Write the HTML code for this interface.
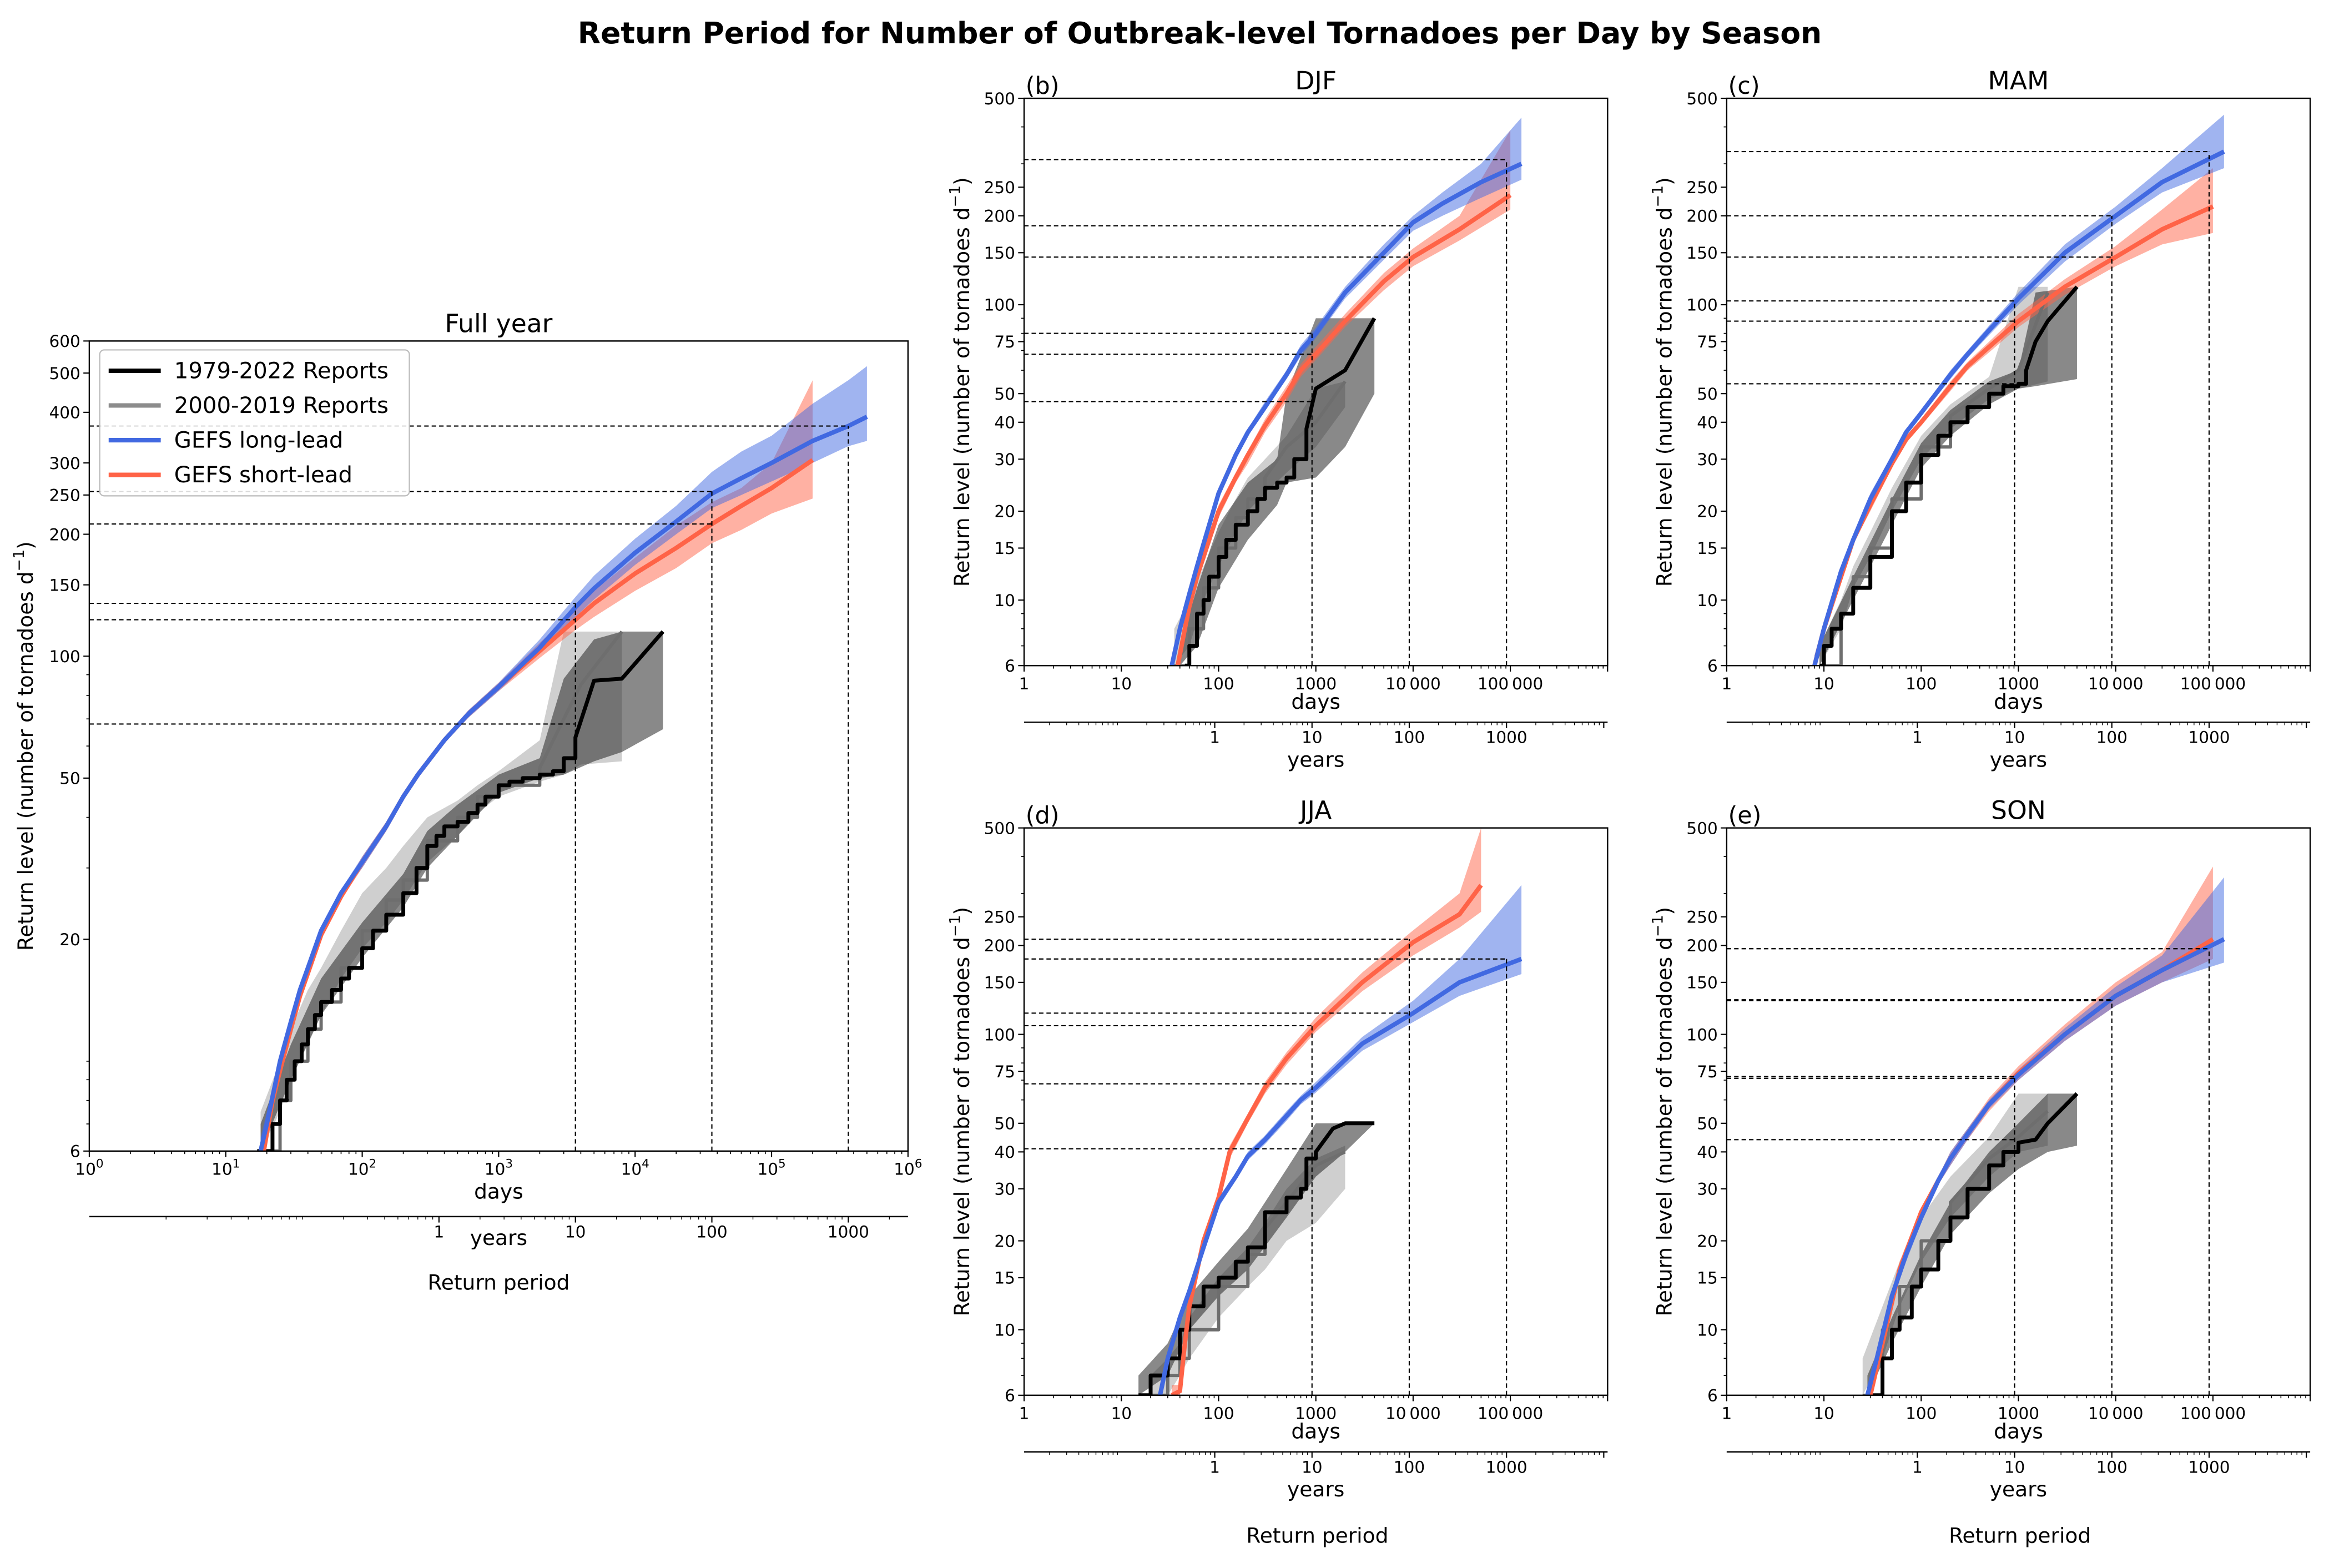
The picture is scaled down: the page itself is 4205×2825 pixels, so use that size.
<!DOCTYPE html>
<html><head><meta charset="utf-8"><style>
html,body{margin:0;padding:0;background:#fff;}
svg{display:block;font-family:"DejaVu Sans","Liberation Sans",sans-serif;}
</style></head><body>
<svg id="chart" xmlns="http://www.w3.org/2000/svg" width="4205" height="2825" viewBox="0 0 1568 1053" preserveAspectRatio="none">
<rect x="0" y="0" width="1568" height="1053" fill="#fff"/>
<text x="806" y="29" text-anchor="middle" font-size="20" font-weight="bold">Return Period for Number of Outbreak-level Tornadoes per Day by Season</text>
</svg>
<script>
// ---------- Full year ----------
const fullLongDays=[18,20,25,30,35,40,50,70,100,150,200,256,400,600,1000,2000,3652,5000,10000,20000,36525,60000,100000,200000,365250,500000];
const fullLongVals=[6,7,10,12.5,15,17,21,26,31,38,45,51,62,72,84,105,132,147,180,215,252,275,300,340,370,390];
const fullLongLo=[6,6.5,9.5,12,14.5,16.5,20.5,25.5,30,37,44,50,61,70.5,82,102,125,138,168,200,232,250,270,300,330,340];
const fullLongHi=[6.5,7.5,10.5,13,15.5,17.5,21.5,26.5,32,39,46,52,63,73.5,86,110,140,158,195,235,285,320,350,420,480,520];
const fullShortDays=[19,22,25,30,35,40,50,70,100,150,200,256,400,600,1000,2000,3652,5000,10000,20000,36525,60000,100000,200000];
const fullShortVals=[6,8,9.5,12,14.5,16.5,20.5,25.5,31,38,45,51,62,72,84,103,123,135,160,185,212,235,260,305];
const fullShortLo=[6,7.5,9,11.5,14,16,20,25,30,37,44,50,61,70.5,82,99,116,125,145,165,190,205,225,245];
const fullShortHi=[6.5,8.5,10,12.5,15,17,21,26,32,39,46,52,63,73.5,86,108,130,145,175,210,240,260,300,480];
const fullObsDays=[17,20,22,25,28,32,36,40,45,50,60,70,80,100,120,150,200,250,300,350,400,500,600,700,800,1000,1200,1500,2000,2500,3000,3652,5000,8000,16000];
const fullObsVals=[6,6,7,8,9,10,11,12,13,14,15,16,17,19,21,23,26,30,34,36,38,39,41,43,45,48,49,50,51,52,56,63,87,88,115];
const fullObsBandDays=[18,30,50,100,200,300,500,1000,2000,3000,5000,8000,16000];
const fullObsLo=[6,9,13,18,24,30,36,46,50,51,55,58,66];
const fullObsHi=[7,11,16,22,29,37,43,51,56,88,110,115,115];
const fullGreyDays=[18,25,30,40,50,70,100,150,200,300,500,700,1000,2000,3000,4000,8000];
const fullGreyVals=[6,8,10,12,14,17,21,25,28,35,40,45,48,53,70,85,115];
const fullGreyLo=[6,7.5,9,11,13,16,19,22,25,31,36,41,45,49,51,54,55];
const fullGreyHi=[7.5,10,12,15,17,21,26,30,34,40,44,48,52,62,115,115,115];
const fullRefLevels=[370,255,212,135,123,68];
const fullRefDays=[365250,36525,36525,3652,3652,3652];
// ---------- DJF ----------
const djfLongDays=[33,40,50,60,70,100,150,200,300,500,700,1000,2000,5000,10000,20000,50000,130000];
const djfLongVals=[6,8,10.5,13,15.5,23,31,37,45,58,70,80,110,150,190,220,260,300];
const djfLongLo=[6,7.5,10,12.5,15,22,30,36,44,56,67,77,105,142,178,200,230,265];
const djfLongHi=[6.5,8.5,11,13.5,16,24,32,38,47,60,73,84,115,160,200,240,300,430];
const djfShortDays=[38,45,50,60,70,100,150,200,300,500,700,1000,2000,5000,10000,30000,100000];
const djfShortVals=[6,8,9.5,12,14,20,26,31,39,50,60,68,88,120,145,180,235];
const djfShortLo=[6,7.5,9,11.5,13.5,19,25,29,37,47,57,65,84,112,135,165,210];
const djfShortHi=[6.5,8.5,10,12.5,14.5,21,27,32,41,53,63,72,93,128,155,200,390];
const djfObsDays=[45,50,60,70,80,100,120,150,200,250,300,400,500,600,800,1000,2000,4000];
const djfObsVals=[6,7,9,10,12,14,16,18,20,22,24,25,26,30,38,52,60,90];
const djfObsBandDays=[40,60,100,200,400,500,1000,2000,4000];
const djfObsLo=[6,7,11,16,21,25,26,33,50];
const djfObsHi=[7,11,18,25,30,50,90,90,90];
const djfGreyDays=[35,50,70,100,150,200,300,500,1000,2000];
const djfGreyVals=[6,8,11,15,19,22,26,33,40,55];
const djfGreyLo=[6,7,10,13,17,20,23,27,33,45];
const djfGreyHi=[8,10,13,17,22,26,30,36,52,55];
const djfRefLevels=[310,185,145,80,68,47];
// ---------- MAM ----------
const mamLongDays=[8,10,15,20,30,50,70,100,200,300,500,1000,3000,10000,30000,130000];
const mamLongVals=[6,8,12.5,16,22,30,37,43,58,68,82,105,150,200,260,330];
const mamLongLo=[6,7.5,12,15.5,21,29,36,42,56,66,79,100,140,188,240,290];
const mamLongHi=[6.5,8.5,13,16.5,23,31,38,44,60,70,85,110,160,215,290,440];
const mamShortDays=[8,10,15,20,30,50,70,100,200,300,500,1000,3000,10000,30000,100000];
const mamShortVals=[6,8,12,16,21,29,35,40,53,62,72,88,115,145,180,215];
const mamShortLo=[6,7.5,11.5,15.5,20,28,34,39,51,60,69,84,108,135,160,175];
const mamShortHi=[6.5,8.5,12.5,16.5,22,30,36,41,55,64,75,93,122,158,210,290];
const mamObsDays=[9,10,12,15,20,30,50,70,100,150,200,300,500,700,1000,1200,1500,2000,4000];
const mamObsVals=[6,7,8,9,11,14,20,25,31,36,40,45,50,53,54,60,75,88,115];
const mamObsBandDays=[9,20,50,100,200,500,1000,1500,4000];
const mamObsLo=[6,10,18,28,36,46,52,53,56];
const mamObsHi=[7,12,22,34,44,55,60,110,115];
const mamGreyDays=[9,15,20,30,50,100,200,500,1000,2000];
const mamGreyVals=[6,9,12,15,22,33,42,52,60,110];
const mamGreyLo=[6,8,11,14,20,30,38,48,52,55];
const mamGreyHi=[7,10,13,17,24,36,46,57,115,115];
const mamRefLevels=[330,200,145,103,88,54];
// ---------- JJA ----------
const jjaLongDays=[25,30,40,50,70,100,150,200,300,500,700,1000,2000,3000,10000,30000,130000];
const jjaLongVals=[6,8,11,13.5,19,27,33,38.7,44,53,60,66,82,93,118,150,180];
const jjaLongLo=[6,7.5,10.5,13,18,26,32,37.5,42.5,51,58,63.5,78,88,110,135,160];
const jjaLongHi=[6.5,8.5,11.5,14,20,28,34,40,45.5,55,62,69,86,98,130,180,320];
const jjaShortDays=[33,40,45,50,70,100,130,200,300,500,1000,3000,10000,30000,50000];
const jjaShortVals=[6,6.2,9,12,20,28,40,52,66,83,107,150,205,255,320];
const jjaShortLo=[6,6,8.5,11.5,19,27,38,50,63,79,102,140,185,230,260];
const jjaShortHi=[6.5,6.5,9.5,12.5,21,29,42,54,69,87,114,162,225,300,500];
const jjaObsDays=[15,20,25,30,40,50,70,100,150,200,300,500,700,800,1000,1500,2000,4000];
const jjaObsVals=[6,7,7,8,10,12,14,15,17,19,25,28,30,38,40,48,50,50];
const jjaObsBandDays=[15,30,50,100,200,500,1000,2000,4000];
const jjaObsLo=[6,7,10,13,16,24,33,40,50];
const jjaObsHi=[7,9,13,17,22,35,50,50,50];
const jjaGreyDays=[20,30,40,50,100,200,300,500,1000,2000];
const jjaGreyVals=[6,7,8,10,14,18,22,27,36,40];
const jjaGreyLo=[6,6,7,8,11,14,16,20,23,30];
const jjaGreyHi=[7,8,9,11,15,19,23,30,38,42];
const jjaRefLevels=[180,210,118,107,68,41];
// ---------- SON ----------
const sonLongDays=[28,35,50,70,100,150,200,300,500,1000,3000,10000,30000,130000];
const sonLongVals=[6,8,13,18,24,32,38,46,58,73,100,135,165,210];
const sonLongLo=[6,7.5,12.5,17,23,31,36,44,56,70,95,125,150,175];
const sonLongHi=[6.5,8.5,13.5,19,25,33,40,48,60,76,105,145,185,340];
const sonShortDays=[30,40,60,100,150,200,300,500,1000,3000,10000,30000,100000];
const sonShortVals=[6,9,16,25,32,38,46,58,74,100,135,165,210];
const sonShortLo=[6,8.5,15,24,31,36,44,55,70,95,125,150,180];
const sonShortHi=[6.5,9.5,17,26,33,40,48,61,78,108,150,190,370];
const sonObsDays=[30,40,50,60,80,100,150,200,300,500,700,1000,1500,2000,4000];
const sonObsVals=[6,8,10,11,14,16,20,24,30,36,40,43,44,50,63];
const sonObsBandDays=[28,50,100,200,500,1000,2000,4000];
const sonObsLo=[6,9,14,21,29,35,40,42];
const sonObsHi=[7,11,18,27,40,50,63,63];
const sonGreyDays=[25,40,60,100,200,500,1000,2000];
const sonGreyVals=[6,10,14,20,27,38,45,55];
const sonGreyLo=[6,8,12,17,24,33,40,42];
const sonGreyHi=[8,12,17,24,33,45,63,63];
const sonRefLevels=[195,131,130,72,71,44];
const seasonRefDays=[91310,9131,9131,913,913,913];

const smallYTicks=[6,10,15,20,30,40,50,75,100,150,200,250,500];
const smallYMinor=[7,8,9,60,70,80,90,300,400];
const fullYTicks=[6,20,50,100,150,200,250,300,400,500,600];
const fullYMinor=[7,8,9,10,30,40,60,70,80,90];

const NS='http://www.w3.org/2000/svg';
const svg=document.getElementById('chart');
function mk(tag,attrs,parent){const e=document.createElementNS(NS,tag);for(const k in attrs)e.setAttribute(k,attrs[k]);parent.appendChild(e);return e;}
let clipId=0;

function drawPanel(P){
  const g=mk('g',{},svg);
  
  
  const lx0=Math.log10(P.xmin),lx1=Math.log10(P.xmax),ly0=Math.log10(P.ymin),ly1=Math.log10(P.ymax);
  const sx=d=>P.x0+(Math.log10(d)-lx0)/(lx1-lx0)*(P.x1-P.x0);
  const sy=v=>P.y1-(Math.log10(v)-ly0)/(ly1-ly0)*(P.y1-P.y0);
  const cid='clip'+(clipId++);
  const cp=mk('clipPath',{id:cid},g);
  mk('rect',{x:P.x0,y:P.y0,width:P.x1-P.x0,height:P.y1-P.y0},cp);
  const plot=mk('g',{'clip-path':'url(#'+cid+')'},g);
  
  
  function band(days,lo,hi,fill,nm){
    let d='M'+days.map((x,i)=>sx(x).toFixed(2)+','+sy(hi[i]).toFixed(2)).join('L');
    for(let i=days.length-1;i>=0;i--)d+='L'+sx(days[i]).toFixed(2)+','+sy(lo[i]).toFixed(2);
    const p=mk('path',{d:d+'Z',fill:fill,stroke:'none'},plot);
    
    
  }
  function line(days,vals,col,w,step,nm){
    let d='M'+sx(days[0]).toFixed(2)+','+sy(vals[0]).toFixed(2);
    for(let i=1;i<days.length;i++){
      if(step&&i<days.length-3)d+='H'+sx(days[i]).toFixed(2)+'V'+sy(vals[i]).toFixed(2);
      else d+='L'+sx(days[i]).toFixed(2)+','+sy(vals[i]).toFixed(2);
    }
    const p=mk('path',{d:d,fill:'none',stroke:col,'stroke-width':w,'stroke-linejoin':'round'},plot);
    
    
  }
  band(P.greyDays,P.greyLo,P.greyHi,'rgba(160,160,160,0.5)','obs-2000-2019-band');
  band(P.obsBandDays,P.obsLo,P.obsHi,'rgba(40,40,40,0.55)','obs-1979-2022-band');
  band(P.shortDays,P.shortLo,P.shortHi,'rgba(255,99,71,0.5)','gefs-short-lead-band');
  band(P.longDays,P.longLo,P.longHi,'rgba(65,105,225,0.5)','gefs-long-lead-band');
  line(P.greyDays,P.greyVals,'#6e6e6e',2.2,true,'obs-2000-2019-line');
  line(P.obsDays,P.obsVals,'#000',2.6,true,'obs-1979-2022-line');
  line(P.shortDays,P.shortVals,'#ff6347',3,false,'gefs-short-lead-line');
  line(P.longDays,P.longVals,'#4169e1',3,false,'gefs-long-lead-line');
  const vmax={};
  P.refLevels.forEach((lv,i)=>{
    const xd=P.refDays[i];
    const h=mk('line',{x1:P.x0,x2:sx(xd),y1:sy(lv),y2:sy(lv),stroke:'#000','stroke-width':0.8,'stroke-dasharray':'3,2'},g);
    
    
    vmax[xd]=Math.max(vmax[xd]||0,lv);
  });
  Object.keys(vmax).forEach(k=>{
    const v=mk('line',{x1:sx(+k),x2:sx(+k),y1:P.y1,y2:sy(vmax[k]),stroke:'#000','stroke-width':0.8,'stroke-dasharray':'3,2'},g);
    
    
  });
  const fr=mk('rect',{x:P.x0,y:P.y0,width:P.x1-P.x0,height:P.y1-P.y0,fill:'none',stroke:'#000','stroke-width':0.9},g);
  
  
  P.yTicks.forEach(v=>{
    mk('line',{x1:P.x0-4,x2:P.x0,y1:sy(v),y2:sy(v),stroke:'#000','stroke-width':0.8},g);
    const t=mk('text',{x:P.x0-6,y:sy(v)+4,'text-anchor':'end','font-size':11},g);
    t.textContent=v;
    
    
  });
  P.yMinor.forEach(v=>mk('line',{x1:P.x0-2,x2:P.x0,y1:sy(v),y2:sy(v),stroke:'#000','stroke-width':0.6},g));
  for(let e=0;e<=6;e++){
    const d=Math.pow(10,e);
    mk('line',{x1:sx(d),x2:sx(d),y1:P.y1,y2:P.y1+4,stroke:'#000','stroke-width':0.8},g);
    const t=mk('text',{x:sx(d),y:P.y1+16,'text-anchor':'middle','font-size':11},g);
    if(P.full){t.textContent='10';const s=mk('tspan',{dy:-5,'font-size':8},t);s.textContent=String(e);}
    else if(e<6)t.textContent=['1','10','100','1000','10\u2009000','100\u2009000'][e];
    
    
    if(e<6)for(let k=2;k<=9;k++){const xm=sx(k*d);if(xm<=P.x1)mk('line',{x1:xm,x2:xm,y1:P.y1,y2:P.y1+2,stroke:'#000','stroke-width':0.6},g);}
  }
  const dl=mk('text',{x:(P.x0+P.x1)/2,y:P.y1+(P.full?32:29),'text-anchor':'middle','font-size':14},g);
  dl.textContent='days';
  
  
  const ya=P.y1+P.secOff;
  const sl=mk('line',{x1:P.x0,x2:P.x1,y1:ya,y2:ya,stroke:'#000','stroke-width':0.9},g);
  
  
  for(let e=-2;e<=4;e++){
    for(let k=1;k<=9;k++){
      const yv=k*Math.pow(10,e);const xx=sx(yv*P.daysPerYear);
      if(xx<P.x0||xx>P.x1)continue;
      const major=(k===1&&e>=0);
      mk('line',{x1:xx,x2:xx,y1:ya,y2:ya+(major?4:2),stroke:'#000','stroke-width':major?0.8:0.5},g);
      if(major&&e<=3){
        const t=mk('text',{x:xx,y:ya+14,'text-anchor':'middle','font-size':11},g);
        t.textContent=String(yv);
        
        
      }
    }
  }
  const yl=mk('text',{x:(P.x0+P.x1)/2,y:ya+(P.full?19:30),'text-anchor':'middle','font-size':14},g);
  yl.textContent='years';
  
  
  const tt=mk('text',{x:(P.x0+P.x1)/2,y:P.y0-6,'text-anchor':'middle','font-size':17},g);
  tt.textContent=P.title;
  
  
  if(P.letter){
    const lt=mk('text',{x:P.x0+1,y:P.y0-3,'font-size':16},g);
    lt.textContent=P.letter;
    
    
  }
  const cy=(P.y0+P.y1)/2, cx=P.x0-(P.full?38:37);
  const yt=mk('text',{x:cx,y:cy,'text-anchor':'middle','font-size':14,transform:'rotate(-90 '+cx+' '+cy+')'},g);
  yt.textContent='Return level (number of tornadoes d';
  const sup=mk('tspan',{dy:-6,'font-size':10},yt);sup.textContent='\u22121';
  const cl=mk('tspan',{dy:6},yt);cl.textContent=')';
  
  
}

function cfg(name,x0,y0,x1,y1,pre,ref,title,letter){
  return {name,x0,y0,x1,y1,xmin:1,xmax:1e6,ymin:6,ymax:500,full:false,secOff:38,daysPerYear:91.31,
    longDays:pre.lD,longVals:pre.lV,longLo:pre.lL,longHi:pre.lH,shortDays:pre.sD,shortVals:pre.sV,shortLo:pre.sL,shortHi:pre.sH,
    obsDays:pre.oD,obsVals:pre.oV,obsBandDays:pre.bD,obsLo:pre.bL,obsHi:pre.bH,greyDays:pre.gD,greyVals:pre.gV,greyLo:pre.gL,greyHi:pre.gH,
    refLevels:ref,refDays:seasonRefDays,yTicks:smallYTicks,yMinor:smallYMinor,title,letter};
}
drawPanel({name:'full-year',x0:60,y0:229,x1:610,y1:773,xmin:1,xmax:1e6,ymin:6,ymax:600,full:true,secOff:44,daysPerYear:365.25,
  longDays:fullLongDays,longVals:fullLongVals,longLo:fullLongLo,longHi:fullLongHi,shortDays:fullShortDays,shortVals:fullShortVals,shortLo:fullShortLo,shortHi:fullShortHi,
  obsDays:fullObsDays,obsVals:fullObsVals,obsBandDays:fullObsBandDays,obsLo:fullObsLo,obsHi:fullObsHi,greyDays:fullGreyDays,greyVals:fullGreyVals,greyLo:fullGreyLo,greyHi:fullGreyHi,
  refLevels:fullRefLevels,refDays:fullRefDays,yTicks:fullYTicks,yMinor:fullYMinor,title:'Full year',letter:''});
drawPanel(cfg('djf',688,66,1080,447,{lD:djfLongDays,lV:djfLongVals,lL:djfLongLo,lH:djfLongHi,sD:djfShortDays,sV:djfShortVals,sL:djfShortLo,sH:djfShortHi,oD:djfObsDays,oV:djfObsVals,bD:djfObsBandDays,bL:djfObsLo,bH:djfObsHi,gD:djfGreyDays,gV:djfGreyVals,gL:djfGreyLo,gH:djfGreyHi},djfRefLevels,'DJF','(b)'));
drawPanel(cfg('mam',1160,66,1552,447,{lD:mamLongDays,lV:mamLongVals,lL:mamLongLo,lH:mamLongHi,sD:mamShortDays,sV:mamShortVals,sL:mamShortLo,sH:mamShortHi,oD:mamObsDays,oV:mamObsVals,bD:mamObsBandDays,bL:mamObsLo,bH:mamObsHi,gD:mamGreyDays,gV:mamGreyVals,gL:mamGreyLo,gH:mamGreyHi},mamRefLevels,'MAM','(c)'));
drawPanel(cfg('jja',688,556,1080,937,{lD:jjaLongDays,lV:jjaLongVals,lL:jjaLongLo,lH:jjaLongHi,sD:jjaShortDays,sV:jjaShortVals,sL:jjaShortLo,sH:jjaShortHi,oD:jjaObsDays,oV:jjaObsVals,bD:jjaObsBandDays,bL:jjaObsLo,bH:jjaObsHi,gD:jjaGreyDays,gV:jjaGreyVals,gL:jjaGreyLo,gH:jjaGreyHi},jjaRefLevels,'JJA','(d)'));
drawPanel(cfg('son',1160,556,1552,937,{lD:sonLongDays,lV:sonLongVals,lL:sonLongLo,lH:sonLongHi,sD:sonShortDays,sV:sonShortVals,sL:sonShortLo,sH:sonShortHi,oD:sonObsDays,oV:sonObsVals,bD:sonObsBandDays,bL:sonObsLo,bH:sonObsHi,gD:sonGreyDays,gV:sonGreyVals,gL:sonGreyLo,gH:sonGreyHi},sonRefLevels,'SON','(e)'));

[[335,866],[885,1036],[1357,1036]].forEach(p=>{
  const t=mk('text',{x:p[0],y:p[1],'text-anchor':'middle','font-size':14},svg);
  t.textContent='Return period';
  
  
});

const legendLabels=['1979-2022 Reports','2000-2019 Reports','GEFS long-lead','GEFS short-lead'];
const legendColors=['#000','#8c8c8c','#4169e1','#ff6347'];
const lg=mk('g',{},svg);


mk('rect',{x:67,y:235,width:208,height:98,rx:3,fill:'#fff','fill-opacity':0.85,stroke:'#bbb','stroke-width':0.8},lg);
legendLabels.forEach((lab,i)=>{
  const y=249+i*23.3;
  const e=mk('g',{},lg);
  
  
  mk('line',{x1:73,x2:108,y1:y,y2:y,stroke:legendColors[i],'stroke-width':3},e);
  const t=mk('text',{x:117,y:y+5,'font-size':15},e);
  t.textContent=lab;
});
</script>
</body></html>
